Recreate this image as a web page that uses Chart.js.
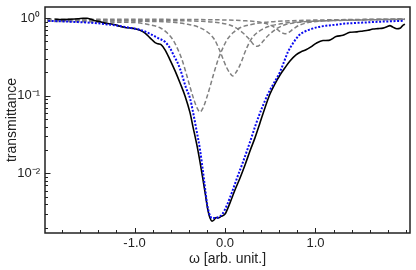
<!DOCTYPE html>
<html>
<head>
<meta charset="utf-8">
<script src="https://cdn.jsdelivr.net/npm/chart.js@4.4.1/dist/chart.umd.min.js"></script>
<style>
  html, body { margin: 0; padding: 0; background: #fff; }
</style>
</head>
<body>
<canvas id="myChart" width="416" height="270"></canvas>
<script>
// measured transmittance (black solid)
const omegaMeas = [-1.878, -1.801, -1.713, -1.624, -1.569, -1.525, -1.481, -1.436, -1.381, -1.326,
  -1.271, -1.215, -1.160, -1.105, -1.050, -0.994, -0.939, -0.884, -0.829, -0.773,
  -0.740, -0.707, -0.663, -0.608, -0.552, -0.497, -0.442, -0.387, -0.354, -0.309,
  -0.276, -0.243, -0.221, -0.188, -0.166, -0.144, -0.122, -0.099, -0.077, -0.044,
  0.000, 0.055, 0.110, 0.166, 0.221, 0.276, 0.331, 0.387, 0.442, 0.497,
  0.552, 0.608, 0.663, 0.718, 0.785, 0.840, 0.895, 0.950, 1.006, 1.083,
  1.149, 1.227, 1.304, 1.381, 1.459, 1.525, 1.580, 1.635, 1.691, 1.746,
  1.790, 1.823, 1.856, 1.901, 1.934, 1.967, 1.989];
const transMeas = [0.965, 0.956, 0.965, 0.979, 0.994, 0.997, 0.965, 0.923, 0.896, 0.862,
  0.844, 0.819, 0.784, 0.756, 0.745, 0.728, 0.696, 0.640, 0.557, 0.483,
  0.466, 0.455, 0.390, 0.290, 0.209, 0.146, 0.0994, 0.0604, 0.0397, 0.0225,
  0.0139, 0.0082, 0.0057, 0.0033, 0.00265, 0.00242, 0.00250, 0.00269, 0.00265, 0.00278,
  0.00298, 0.00415, 0.0061, 0.0087, 0.0128, 0.0194, 0.0286, 0.0448, 0.070, 0.105,
  0.142, 0.185, 0.229, 0.280, 0.336, 0.367, 0.390, 0.426, 0.473, 0.514,
  0.517, 0.579, 0.600, 0.656, 0.665, 0.682, 0.696, 0.723, 0.732, 0.743,
  0.772, 0.800, 0.765, 0.728, 0.739, 0.807, 0.832];

// fit (blue dotted)
const omegaFit = [-1.956, -1.812, -1.624, -1.470, -1.326, -1.182, -1.072, -0.961, -0.884, -0.807,
  -0.740, -0.663, -0.608, -0.564, -0.530, -0.497, -0.464, -0.431, -0.387, -0.354,
  -0.320, -0.276, -0.243, -0.221, -0.199, -0.177, -0.144, -0.099, -0.066, -0.033,
  0.022, 0.077, 0.133, 0.199, 0.276, 0.343, 0.409, 0.475, 0.541, 0.608,
  0.652, 0.696, 0.751, 0.818, 0.873, 0.928, 1.017, 1.116, 1.215, 1.304,
  1.414, 1.525, 1.635, 1.746, 1.856, 1.967];
const transFit = [0.923, 0.909, 0.888, 0.870, 0.837, 0.796, 0.756, 0.717, 0.671, 0.609,
  0.552, 0.494, 0.410, 0.326, 0.275, 0.222, 0.168, 0.126, 0.0929, 0.0619,
  0.0384, 0.0200, 0.0104, 0.0065, 0.0041, 0.0031, 0.00265, 0.00265, 0.00277, 0.00294,
  0.0039, 0.0057, 0.0087, 0.0140, 0.0253, 0.0435, 0.0696, 0.1055, 0.146, 0.203,
  0.273, 0.367, 0.473, 0.600, 0.665, 0.706, 0.761, 0.796, 0.819, 0.844,
  0.862, 0.875, 0.890, 0.901, 0.912, 0.923];

// components (gray dashed)
const omegaA = [-1.967, -1.271, -0.994, -0.829, -0.718, -0.641, -0.575, -0.519, -0.475, -0.431,
  -0.387, -0.343, -0.309, -0.276, -0.243, -0.210, -0.166, -0.122, -0.077, -0.033,
  0.022, 0.088, 0.166, 0.276, 0.442, 0.718, 1.271, 1.989];
const transA = [0.909, 0.888, 0.875, 0.819, 0.750, 0.646, 0.525, 0.390, 0.290, 0.197,
  0.130, 0.0883, 0.0696, 0.0618, 0.0696, 0.0883, 0.130, 0.197, 0.290, 0.390,
  0.525, 0.646, 0.750, 0.819, 0.883, 0.923, 0.955, 0.972];

const omegaB = [-1.967, -0.909, -0.578, -0.412, -0.302, -0.213, -0.158, -0.114, -0.081, -0.048,
  -0.014, 0.019, 0.052, 0.085, 0.118, 0.151, 0.185, 0.218, 0.251, 0.285,
  0.329, 0.384, 0.472, 0.583, 0.748, 1.080, 1.989];
const transB = [0.928, 0.909, 0.883, 0.832, 0.772, 0.686, 0.609, 0.525, 0.439, 0.357,
  0.281, 0.229, 0.197, 0.180, 0.197, 0.229, 0.281, 0.357, 0.439, 0.525,
  0.609, 0.686, 0.772, 0.832, 0.883, 0.923, 0.962];

const omegaC = [-1.967, -0.641, -0.254, -0.066, 0.044, 0.122, 0.177, 0.221, 0.254, 0.287,
  0.320, 0.354, 0.387, 0.420, 0.453, 0.486, 0.530, 0.586, 0.663, 0.773,
  0.961, 1.348, 1.989];
const transC = [0.951, 0.928, 0.909, 0.870, 0.819, 0.750, 0.675, 0.609, 0.557, 0.502,
  0.452, 0.433, 0.452, 0.502, 0.557, 0.609, 0.675, 0.750, 0.819, 0.870,
  0.909, 0.937, 0.968];

const omegaD = [-1.967, -0.276, 0.000, 0.221, 0.354, 0.442, 0.508, 0.552, 0.597, 0.630,
  0.663, 0.696, 0.729, 0.773, 0.818, 0.884, 0.972, 1.105, 1.326, 1.989];
const transD = [0.971, 0.956, 0.945, 0.923, 0.896, 0.857, 0.807, 0.750, 0.686, 0.646,
  0.627, 0.646, 0.686, 0.750, 0.807, 0.857, 0.896, 0.923, 0.945, 0.975];

// axes
const xTickVals = [-1, 0, 1];
const xTickLabels = ["-1.0", "0.0", "1.0"];
const xMinorTicks = [-1.8, -1.6, -1.4, -1.2, -1.0, -0.8, -0.6, -0.4, -0.2, 0.0,
  0.2, 0.4, 0.6, 0.8, 1.0, 1.2, 1.4, 1.6, 1.8, 2.0];
const yTickVals = [0.01, 0.1, 1];
const yTickLabels = ["10⁻²", "10⁻¹", "10⁰"];

const pts = (xs, ys) => xs.map((x, i) => ({ x: x, y: ys[i] }));
const FONT = "'Liberation Sans', Arial, sans-serif";

// frame + inward ticks like the origin plot
const frame = {
  id: "frame",
  afterDraw(chart) {
    const { ctx, chartArea: a, scales } = chart;
    const x = scales.x, y = scales.y;
    ctx.save();
    ctx.setLineDash([]);
    ctx.strokeStyle = "#222";
    ctx.lineWidth = 1;
    ctx.beginPath();
    xMinorTicks.forEach(v => {
      const px = Math.round(x.getPixelForValue(v)) + 0.5;
      const major = xTickVals.some(t => Math.abs(t - v) < 1e-6);
      ctx.moveTo(px, a.bottom);
      ctx.lineTo(px, a.bottom - (major ? 5 : 3));
    });
    for (let d = -3; d <= 0; d++) {
      for (let m = 1; m <= 9; m++) {
        const v = m * Math.pow(10, d);
        if (v < y.min || v > y.max) continue;
        const py = Math.round(y.getPixelForValue(v)) + 0.5;
        ctx.moveTo(a.left, py);
        ctx.lineTo(a.left + (m === 1 ? 5.5 : 3), py);
      }
    }
    ctx.stroke();
    ctx.lineWidth = 1.5;
    ctx.strokeRect(a.left, a.top, a.right - a.left, a.bottom - a.top);
    ctx.restore();
  }
};

const ctx = document.getElementById("myChart").getContext("2d");
const gray = "rgb(128,128,128)";
const grayStyle = { borderColor: gray, borderWidth: 1.5, borderDash: [4.5, 2.5], order: 3 };

new Chart(ctx, {
  type: "line",
  data: {
    datasets: [
      Object.assign({ label: "A", data: pts(omegaA, transA) }, grayStyle),
      Object.assign({ label: "B", data: pts(omegaB, transB) }, grayStyle),
      Object.assign({ label: "C", data: pts(omegaC, transC) }, grayStyle),
      Object.assign({ label: "D", data: pts(omegaD, transD) }, grayStyle),
      { label: "measured", data: pts(omegaMeas, transMeas), borderColor: "#000", borderWidth: 1.6, order: 2 },
      { label: "fit", data: pts(omegaFit, transFit), borderColor: "rgb(10,10,240)", borderWidth: 2, borderDash: [2, 1.6], order: 1 },
    ],
  },
  options: {
    responsive: false,
    animation: false,
    devicePixelRatio: 1,
    layout: { padding: { top: 7, right: 6, left: 0, bottom: 0 } },
    elements: { point: { radius: 0 }, line: { cubicInterpolationMode: "monotone", fill: false } },
    plugins: { legend: { display: false }, tooltip: { enabled: false } },
    scales: {
      x: {
        type: "linear",
        min: -1.99,
        max: 2.045,
        afterBuildTicks: s => { s.ticks = xTickVals.map(v => ({ value: v })); },
        afterFit: s => { s.height = 37; s.paddingLeft = 0; s.paddingRight = 0; },
        grid: { display: false, drawTicks: false },
        border: { display: false },
        ticks: {
          autoSkip: false, padding: 3, color: "#222",
          font: { family: FONT, size: 13 },
          callback: (v, i) => xTickLabels[i],
        },
        title: {
          display: true, text: "ω [arb. unit.]", color: "#222",
          font: { family: FONT, size: 14 }, padding: { top: 0, bottom: 2 },
        },
      },
      y: {
        type: "logarithmic",
        min: 0.0017,
        max: 1.39,
        afterBuildTicks: s => { s.ticks = yTickVals.map(v => ({ value: v })); },
        afterFit: s => { s.width = 45; s.paddingTop = 0; s.paddingBottom = 0; },
        grid: { display: false, drawTicks: false },
        border: { display: false },
        ticks: {
          autoSkip: false, padding: 5, color: "#222",
          font: { family: FONT, size: 13 },
          callback: (v, i) => yTickLabels[i],
        },
        title: {
          display: true, text: "transmittance", color: "#222",
          font: { family: FONT, size: 14 }, padding: { top: 4, bottom: 0 },
        },
      },
    },
  },
  plugins: [frame],
});
</script>
</body>
</html>
